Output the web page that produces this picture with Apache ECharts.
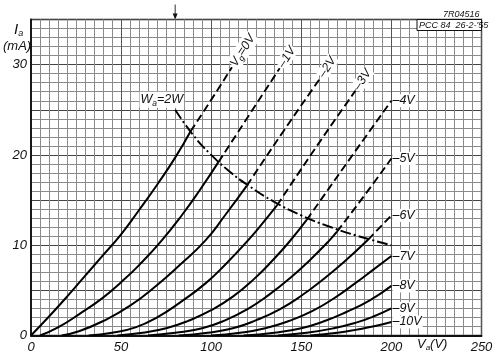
<!DOCTYPE html>
<html><head><meta charset="utf-8">
<script src="https://cdn.jsdelivr.net/npm/echarts@6/dist/echarts.min.js"></script>
<style>html,body{margin:0;padding:0;background:#fff}#c{width:500px;height:364px}</style>
</head><body><div id="c"></div>
<script>
// ---- data (Va in V, Ia in mA) ----
const xTicks = [0, 50, 100, 150, 200, 250];
const yTicks = [0, 10, 20, 30];
const curveLabels = ['{i|V}{s|g}{i|=0V}', '–1V', '–2V', '–3V', '–4V', '–5V', '–6V', '–7V', '–8V', '–9V', '–10V'];

const solidVg0  = [[0,0],[10,2.1],[20,4.3],[30,6.6],[40,8.9],[50,11.2],[60,13.9],[70,16.7],[80,19.7],[88.5,22.6]];
const dashedVg0 = [[88.5,22.6],[100,26.1],[111.5,29.7]];
const solidVg1  = [[5,0],[15,0.9],[27,2.4],[40,4.2],[50,5.9],[60,7.8],[72,10.4],[84,13.4],[94,16.2],[104,19.2]];
const dashedVg1 = [[104,19.2],[121,24.4],[138,29.6]];
const solidVg2  = [[17,0],[27,0.5],[40,1.6],[55,3.3],[70,5.6],[83,7.9],[96.7,10.5],[108,13.4],[119.8,16.6]];
const dashedVg2 = [[119.8,16.6],[140,22.6],[160.5,28.5]];
const solidVg3  = [[32,0],[45,0.3],[58,0.9],[70,2.0],[83,3.7],[97,5.8],[108,7.9],[119.8,10.4],[128,12.3],[136.5,14.4]];
const dashedVg3 = [[136.5,14.4],[158,20.8],[180,27.1]];
const solidVg4  = [[48,0],[62,0.3],[75,0.8],[87,1.6],[100,2.8],[112,4.3],[124,6.3],[134,8.3],[143,10.3],[153,12.8]];
const dashedVg4 = [[153,12.8],[176,19.3],[200,26.0]];
const solidVg5  = [[65,0],[80,0.3],[95,0.8],[108,1.7],[120,2.9],[132,4.5],[144,6.4],[155,8.4],[165,10.4],[169.8,11.5]];
const dashedVg5 = [[169.8,11.5],[185,15.5],[200,19.6]];
const solidVg6  = [[82,0],[98,0.3],[112,0.8],[125,1.7],[138,2.9],[150,4.4],[162,6.2],[174,8.2],[187,10.6]];
const dashedVg6 = [[187,10.6],[200,13.3]];
const solidVg7  = [[100,0],[116,0.3],[130,0.8],[143,1.6],[156,2.7],[168,4.1],[180,5.8],[190,7.3],[200,8.8]];
const solidVg8  = [[118,0],[135,0.3],[150,0.8],[163,1.6],[175,2.6],[188,3.9],[200,5.5]];
const solidVg9  = [[137,0],[153,0.3],[168,0.8],[180,1.4],[190,2.1],[200,3.0]];
const solidVg10 = [[155,0],[170,0.3],[182,0.7],[191,1.05],[200,1.5]];

const powerLimit2W = [[80,25],[90,22.2],[100,20],[110,18.2],[120,16.7],[135,14.8],[150,13.3],[165,12.1],[180,11.1],[200,10]];
const arrowMarkVa = 80;

// ---- chart ----
const FONT = "'Liberation Sans Narrow','Liberation Sans',Arial,sans-serif";
const INK = '#111';
const rich = {
  i: {fontFamily: FONT, fontStyle: 'italic', fontSize: 12.5, color: INK},
  s: {fontFamily: FONT, fontStyle: 'italic', fontSize: 8.5, color: INK, padding: [7, 0, 0, 0]}
};

const solids = [solidVg0, solidVg1, solidVg2, solidVg3, solidVg4, solidVg5, solidVg6, solidVg7, solidVg8, solidVg9, solidVg10];
const dasheds = [dashedVg0, dashedVg1, dashedVg2, dashedVg3, dashedVg4, dashedVg5, dashedVg6];

function lbl(text, rotated) {
  return {
    show: true,
    formatter: text,
    position: rotated ? [0, 0] : 'right',
    distance: 1,
    rotate: rotated ? 57 : 0,
    align: 'left',
    verticalAlign: 'middle',
    offset: rotated ? [2, 0] : [0, 0],
    fontFamily: FONT, fontStyle: 'italic', fontSize: 12.5, color: INK,
    backgroundColor: '#fff', padding: [0, 1, 0, 0],
    rich: rich
  };
}

const series = [];
solids.forEach((d, k) => {
  const s = {
    type: 'line', data: d, smooth: true, showSymbol: false, symbol: 'none',
    lineStyle: {color: '#000', width: 2}, z: 5, silent: true
  };
  if (k >= 7) {
    s.markPoint = {symbol: 'circle', symbolSize: 0.1, itemStyle: {color: 'rgba(0,0,0,0)'},
      data: [{coord: d[d.length - 1], label: lbl(curveLabels[k], false)}]};
  }
  series.push(s);
});
dasheds.forEach((d, k) => {
  series.push({
    type: 'line', data: d, smooth: true, showSymbol: false, symbol: 'none',
    lineStyle: {color: '#000', width: 1.9, type: [8, 4]}, z: 5, silent: true,
    markPoint: {symbol: 'circle', symbolSize: 0.1, itemStyle: {color: 'rgba(0,0,0,0)'},
      data: [{coord: d[d.length - 1], label: lbl(curveLabels[k], k <= 3)}]}
  });
});
series.push({
  type: 'line', data: powerLimit2W, smooth: true, showSymbol: false, symbol: 'none',
  lineStyle: {color: '#000', width: 1.9, type: [11, 3, 2, 3]}, z: 5, silent: true,
  markPoint: {
    data: [
      {coord: powerLimit2W[0], symbol: 'circle', symbolSize: 0.1, itemStyle: {color: 'rgba(0,0,0,0)'},
       label: {show: true, formatter: '{i|W}{s|a}{i|=2W}', position: [0, 0], align: 'right', verticalAlign: 'bottom',
               offset: [9, -2], backgroundColor: '#fff', padding: [0, 1], rich: rich}},
      {coord: [arrowMarkVa, 35], symbol: 'path://M-0.35,0 L0.35,0 L0.35,9 L2,9 L0,15 L-2,9 L-0.35,9 Z',
       symbolSize: [5, 15], symbolOffset: [0, '-50%'], itemStyle: {color: INK}, label: {show: false}}
    ]
  }
});

const chart = echarts.init(document.getElementById('c'), null, {renderer: 'canvas'});
chart.setOption({
  animation: false,
  backgroundColor: '#fff',
  grid: {left: 31, right: 18.5, top: 19.5, bottom: 28.5, show: true, borderColor: '#222', borderWidth: 1.4},
  xAxis: {
    type: 'value', min: xTicks[0], max: xTicks[xTicks.length - 1], interval: 50,
    axisLine: {show: true, lineStyle: {color: INK, width: 1.8}},
    axisTick: {show: false},
    axisLabel: {margin: 5, fontFamily: FONT, fontStyle: 'italic', fontSize: 13, color: INK,
      formatter: v => xTicks.includes(v) ? String(v) : ''},
    splitLine: {show: true, lineStyle: {color: '#555', width: 1}},
    minorTick: {show: false, splitNumber: 10},
    minorSplitLine: {show: true, lineStyle: {color: '#8a8a8a', width: 1}}
  },
  yAxis: {
    type: 'value', min: 0, max: 35, interval: 5,
    axisLine: {show: true, lineStyle: {color: INK, width: 1.8}},
    axisTick: {show: false},
    axisLabel: {margin: 4, fontFamily: FONT, fontStyle: 'italic', fontSize: 13, color: INK,
      formatter: v => yTicks.includes(v) ? String(v) : ''},
    splitLine: {show: true, lineStyle: {color: '#444', width: 1.2}},
    minorTick: {show: false, splitNumber: 5},
    minorSplitLine: {show: true, lineStyle: {color: '#8a8a8a', width: 1}}
  },
  graphic: [
    {type: 'text', left: 14, top: 22, style: {text: '{b|I}{s|a}', rich: {b: {fontFamily: FONT, fontStyle: 'italic', fontSize: 15, fill: INK}, s: {fontFamily: FONT, fontStyle: 'italic', fontSize: 9, fill: INK, padding: [8, 0, 0, 0]}}}},
    {type: 'text', left: 3, top: 40, style: {text: '(mA)', fontFamily: FONT, fontStyle: 'italic', fontSize: 13, fill: INK}},
    {type: 'text', left: 417, top: 338, style: {text: '{b|V}{s|a}{b|(V)}', rich: {b: {fontFamily: FONT, fontStyle: 'italic', fontSize: 13, fill: INK}, s: {fontFamily: FONT, fontStyle: 'italic', fontSize: 8, fill: INK, padding: [7, 0, 0, 0]}}}},
    {type: 'text', left: 443, top: 10, style: {text: '7R04516', fontFamily: FONT, fontStyle: 'italic', fontSize: 9, fill: INK}},
    {type: 'rect', shape: {x: 417, y: 19.5, width: 64.5, height: 11}, style: {fill: '#fff', stroke: INK, lineWidth: 1}, z: 10},
    {type: 'text', left: 419, top: 20.5, z: 11, style: {text: "PCC 84  26-2-'55", fontFamily: FONT, fontStyle: 'italic', fontSize: 9, fill: INK}}
  ],
  series: series
});
</script></body></html>
